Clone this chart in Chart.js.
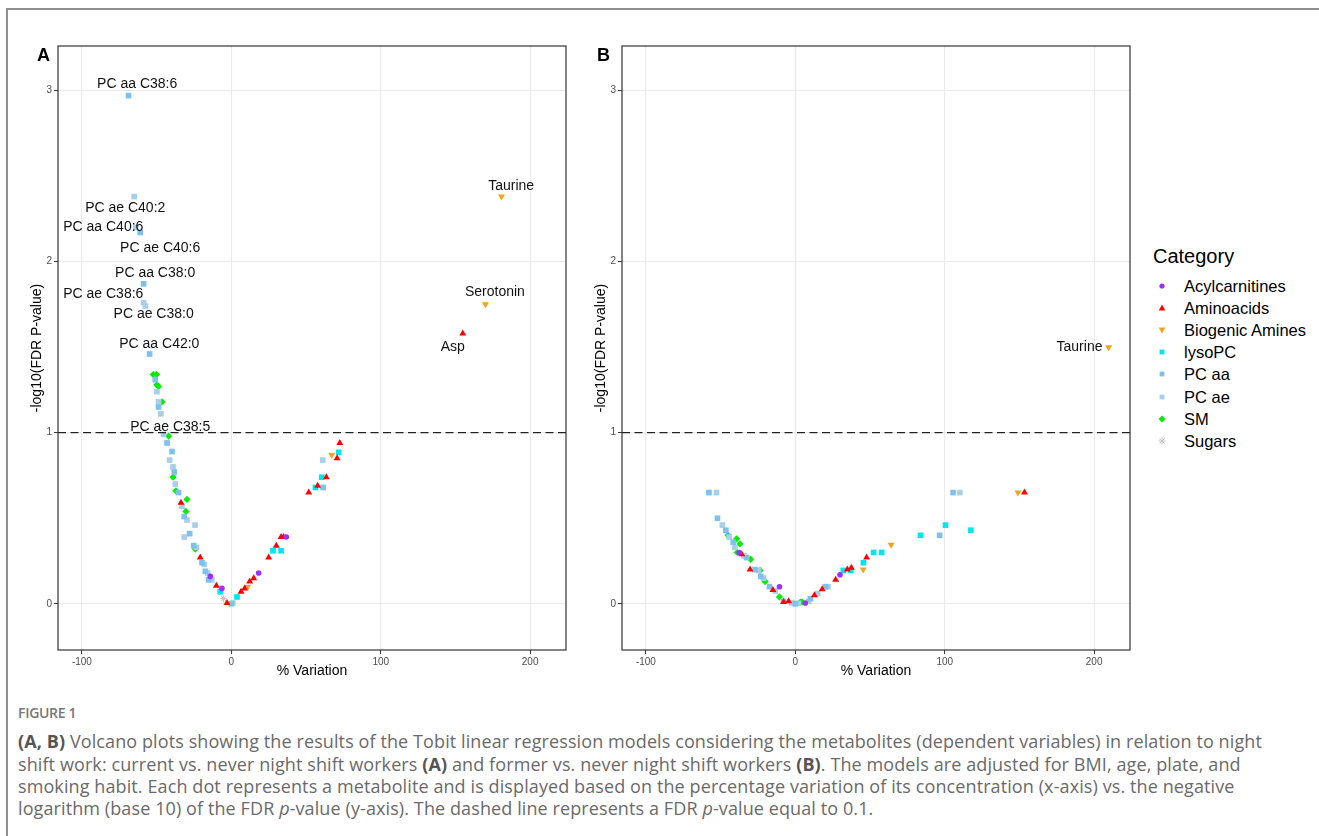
<!DOCTYPE html>
<html>
<head>
<meta charset="utf-8">
<script src="https://cdn.jsdelivr.net/npm/chart.js@4.4.1/dist/chart.umd.min.js"></script>
<style>
  html, body { margin: 0; padding: 0; background: #fff; }
  body { width: 1319px; height: 836px; position: relative; overflow: hidden; font-family: "Liberation Sans", Arial, sans-serif; }
  #frame { position: absolute; left: 6px; top: 8px; width: 1340px; height: 860px; border: 2px solid #8f8f8f; box-sizing: border-box; }
  .panel { position: absolute; top: 0; width: 580px; height: 690px; }
  #wrapA { left: 0; }
  #wrapB { left: 564px; }
  .tag { position: absolute; top: 45px; font-weight: bold; font-size: 18px; line-height: 20px; color: #000; }
  #legend { position: absolute; left: 1153px; top: 0; }
  #legend .title { position: absolute; left: 0; top: 243px; font-size: 20px; line-height: 26px; white-space: nowrap; color: #000; }
  #legend .row { position: absolute; left: 0; height: 20px; white-space: nowrap; }
  #legend .row svg { position: absolute; left: 4px; top: 3px; }
  #legend .row span { position: absolute; left: 31px; top: 0; font-size: 16.5px; line-height: 20px; color: #000; }
  .cap { position: absolute; left: 18px; white-space: nowrap; font-family: "Open Sans", sans-serif; color: #6a6a6a; }
  #figno { top: 703px; font-size: 14px; font-weight: 600; color: #777; letter-spacing: -0.3px; }
  .line { font-size: 18px; line-height: 22px; letter-spacing: 0.1px; }
  .line b { font-weight: 700; color: #555; }
</style>
</head>
<body>
<div id="frame"></div>
<div class="panel" id="wrapA"><canvas id="chartA" width="580" height="690"></canvas></div>
<div class="panel" id="wrapB"><canvas id="chartB" width="580" height="690"></canvas></div>
<div class="tag" style="left:37px">A</div>
<div class="tag" style="left:597px">B</div>
<div id="legend"></div>

<div class="cap" id="figno">FIGURE 1</div>
<div class="cap line" style="top:730px"><b>(A, B)</b> Volcano plots showing the results of the Tobit linear regression models considering the metabolites (dependent variables) in relation to night</div>
<div class="cap line" style="top:753px">shift work: current vs. never night shift workers <b>(A)</b> and former vs. never night shift workers <b>(B)</b>. The models are adjusted for BMI, age, plate, and</div>
<div class="cap line" style="top:775px">smoking habit. Each dot represents a metabolite and is displayed based on the percentage variation of its concentration (x-axis) vs. the negative</div>
<div class="cap line" style="top:797px">logarithm (base 10) of the FDR <i>p</i>-value (y-axis). The dashed line represents a FDR <i>p</i>-value equal to 0.1.</div>

<script>
// ------------------------------------------------------------
// Volcano plots, current vs never (A) and former vs never (B).
// Values: [% variation, -log10(FDR p)].
// ------------------------------------------------------------

const CATEGORIES = ['Acylcarnitines', 'Aminoacids', 'Biogenic Amines', 'lysoPC', 'PC aa', 'PC ae', 'SM', 'Sugars'];
const CAT_COLORS = ['#9b30ff', '#ff0000', '#f4a11d', '#00e6ef', '#7ec0ee', '#a8cfe8', '#00ee00', '#bebebe'];
const CAT_SHAPES = ['circle', 'triangle', 'triangle', 'rect', 'rect', 'rect', 'rectRot', 'star'];
const CAT_ROTATION = [0, 0, 180, 0, 0, 0, 0, 0];
const CAT_RADIUS = [2.8, 4, 4, 4, 4, 4, 3.6, 3.4];

const X_TICKS = [-100, 0, 100, 200];
const Y_TICKS = [0, 1, 2, 3];
const X_RANGE = [-116, 224];
const Y_RANGE = [-0.27, 3.26];
const THRESHOLD = 1; // FDR p = 0.1

// ---- panel A : current vs never ----
const aAcyl = [[-14.1, 0.16], [-6.3, 0.09], [18.3, 0.18], [36.8, 0.39]];
const aAmino = [[-33.7, 0.59], [-20.8, 0.27], [-10, 0.105], [-2.9, 0.004], [6.5, 0.07], [8.9, 0.09], [12.3, 0.13],
  [15, 0.15], [25, 0.27], [30.1, 0.34], [33.3, 0.39], [35, 0.39], [51.8, 0.65], [57.8, 0.69], [63.6, 0.74],
  [70.8, 0.85], [72.6, 0.94], [154.9, 1.58]];
const aBiogenic = [[10.9, 0.10], [67.2, 0.87], [170.1, 1.75], [180.8, 2.38]];
const aLysoPC = [[-7.4, 0.07], [3.8, 0.04], [27.9, 0.31], [33.3, 0.31], [56.3, 0.68], [60.5, 0.74], [71.9, 0.885]];
const aPCaa = [[-68.8, 2.97], [-61, 2.17], [-58.7, 1.87], [-54.7, 1.46], [-50.9, 1.31], [-48.7, 1.15], [-43, 0.94],
  [-39.7, 0.89], [-38.2, 0.77], [-35.3, 0.65], [-31.5, 0.51], [-27.9, 0.41], [-25.2, 0.34], [-19.6, 0.24],
  [-17.4, 0.19], [-15.2, 0.14], [0, 0], [61.4, 0.68]];
const aPCae = [[-65, 2.38], [-64, 2.2], [-58.7, 1.76], [-57.5, 1.74], [-49.8, 1.24], [-48.7, 1.18], [-47.1, 1.11],
  [-45.3, 0.99], [-41.3, 0.84], [-39, 0.80], [-37.5, 0.70], [-33, 0.57], [-29.7, 0.49], [-24.3, 0.46],
  [-31.5, 0.39], [-23.4, 0.33], [-18.1, 0.23], [-15.8, 0.18], [-13, 0.14], [1, 0.005], [61.2, 0.84]];
const aSM = [[-52.3, 1.34], [-50.1, 1.34], [-49.8, 1.28], [-48.7, 1.27], [-46.4, 1.18], [-42, 0.98], [-39, 0.74],
  [-37.1, 0.66], [-29.7, 0.61], [-30.4, 0.54], [-24.1, 0.32]];
const aSugars = [[-5.1, 0.03]];

// text labels of panel A: [name, x, y] (centre of the text, data units)
const aLabels = [
  ['PC aa C38:6', -63, 3.035], ['PC ae C40:2', -71, 2.31], ['PC aa C40:6', -85.7, 2.2], ['PC ae C40:6', -47.6, 2.08],
  ['PC aa C38:0', -51, 1.93], ['PC ae C38:6', -85.7, 1.81], ['PC ae C38:0', -52, 1.69], ['PC aa C42:0', -48.2, 1.52],
  ['PC ae C38:5', -40.9, 1.03], ['Taurine', 187.3, 2.44], ['Serotonin', 176.4, 1.82], ['Asp', 148.2, 1.50]
];

// ---- panel B : former vs never ----
const bAcyl = [[-37.5, 0.30], [-10.6, 0.10], [6.7, 0.005], [29.9, 0.17]];
const bAmino = [[-35.9, 0.29], [-30.3, 0.20], [-15, 0.08], [-7.9, 0.01], [-4.5, 0.015], [12.8, 0.05], [18, 0.085],
  [27, 0.14], [34.8, 0.20], [37.5, 0.21], [47.7, 0.27], [153.4, 0.65]];
const bBiogenic = [[45.4, 0.20], [64.1, 0.345], [149, 0.65], [209.7, 1.50]];
const bLysoPC = [[32.1, 0.195], [37.1, 0.195], [45.6, 0.24], [52.4, 0.30], [57.8, 0.30], [83.8, 0.40], [100.5, 0.46],
  [117.5, 0.43]];
const bPCaa = [[-57.8, 0.65], [-52.1, 0.50], [-46.5, 0.43], [-41.6, 0.36], [-32.6, 0.27], [-27, 0.20], [-23.1, 0.16],
  [-17.3, 0.10], [-7.9, 0.015], [0, 0], [10.1, 0.03], [20.2, 0.10], [96.6, 0.40], [105.6, 0.65]];
const bPCae = [[-52.8, 0.65], [-48.8, 0.46], [-44.3, 0.39], [-40.4, 0.33], [-34.4, 0.28], [-24.7, 0.195], [-21.3, 0.15],
  [-13.5, 0.075], [-2.3, 0.005], [2, 0.003], [9, 0.015], [15, 0.06], [21.8, 0.10], [110.1, 0.65]];
const bSM = [[-45, 0.40], [-39.3, 0.38], [-37.1, 0.35], [-38.9, 0.30], [-29.9, 0.26], [-23.6, 0.195], [-20.2, 0.13],
  [-10.6, 0.04], [3.4, 0.01], [4.5, 0.01]];
const bSugars = [[-1, 0.005]];

const bLabels = [['Taurine', 190.2, 1.50]];

const FONT = '"Liberation Sans", Arial, sans-serif';

function buildDatasets(groups) {
  return groups.map((pts, i) => ({
    label: CATEGORIES[i],
    data: pts.map(([x, y]) => ({ x, y })),
    pointStyle: CAT_SHAPES[i],
    pointRotation: CAT_ROTATION[i],
    pointRadius: CAT_RADIUS[i],
    backgroundColor: CAT_COLORS[i],
    borderColor: CAT_COLORS[i],
    borderWidth: CAT_SHAPES[i] === 'star' ? 1 : 0,
  }));
}

// dashed threshold, text labels and the panel frame
const panelDecor = {
  id: 'panelDecor',
  afterDatasetsDraw(chart, args, opts) {
    const { ctx, chartArea: area, scales: { x, y } } = chart;
    const yy = y.getPixelForValue(THRESHOLD);
    ctx.save();
    ctx.strokeStyle = '#222';
    ctx.lineWidth = 1.3;
    ctx.setLineDash([8, 4.5]);
    ctx.beginPath();
    ctx.moveTo(area.left, yy);
    ctx.lineTo(area.right, yy);
    ctx.stroke();
    ctx.setLineDash([]);
    ctx.fillStyle = '#111';
    ctx.font = '14px ' + FONT;
    ctx.textAlign = 'center';
    ctx.textBaseline = 'middle';
    opts.labels.forEach(([txt, lx, ly]) => {
      ctx.fillText(txt, x.getPixelForValue(lx), y.getPixelForValue(ly));
    });
    ctx.restore();
  },
  afterDraw(chart) {
    const { ctx, chartArea: area } = chart;
    ctx.save();
    ctx.strokeStyle = '#333';
    ctx.lineWidth = 1.2;
    ctx.strokeRect(area.left, area.top, area.right - area.left, area.bottom - area.top);
    ctx.restore();
  }
};

function makeOptions(labels) {
  const tickFont = { family: FONT, size: 10 };
  const titleFont = { family: FONT, size: 14 };
  const grid = { color: '#ebebeb', lineWidth: 1.1, tickColor: '#333', tickLength: 4, tickWidth: 1 };
  return {
    responsive: false,
    animation: false,
    events: [],
    layout: { padding: { top: 46, right: 14, left: 0, bottom: 0 } },
    plugins: { legend: { display: false }, tooltip: { enabled: false }, panelDecor: { labels } },
    scales: {
      x: {
        type: 'linear', min: X_RANGE[0], max: X_RANGE[1],
        afterBuildTicks: s => { s.ticks = X_TICKS.map(v => ({ value: v })); },
        afterFit: s => { s.height = 40; },
        grid, border: { display: false },
        ticks: { color: '#4d4d4d', font: tickFont, padding: 2, maxRotation: 0, autoSkip: false },
        title: { display: true, text: '% Variation', color: '#000', font: titleFont, padding: { top: 0, bottom: 10 } }
      },
      y: {
        type: 'linear', min: Y_RANGE[0], max: Y_RANGE[1],
        afterBuildTicks: s => { s.ticks = Y_TICKS.map(v => ({ value: v })); },
        afterFit: s => { s.width = 58; },
        grid, border: { display: false },
        ticks: { color: '#4d4d4d', font: tickFont, padding: 2, autoSkip: false },
        title: { display: true, text: '-log10(FDR P-value)', color: '#000', font: titleFont, padding: { top: 29, bottom: 0 } }
      }
    }
  };
}

new Chart(document.getElementById('chartA'), {
  type: 'scatter',
  data: { datasets: buildDatasets([aAcyl, aAmino, aBiogenic, aLysoPC, aPCaa, aPCae, aSM, aSugars]) },
  options: makeOptions(aLabels),
  plugins: [panelDecor]
});

new Chart(document.getElementById('chartB'), {
  type: 'scatter',
  data: { datasets: buildDatasets([bAcyl, bAmino, bBiogenic, bLysoPC, bPCaa, bPCae, bSM, bSugars]) },
  options: makeOptions(bLabels),
  plugins: [panelDecor]
});

// ---- legend (HTML, same shapes/colours as the datasets) ----
function legendSymbol(i) {
  const c = CAT_COLORS[i];
  let shape = '';
  if (CAT_SHAPES[i] === 'circle') shape = `<circle cx="5" cy="7" r="2.6" fill="${c}"/>`;
  else if (CAT_SHAPES[i] === 'triangle' && CAT_ROTATION[i] === 0) shape = `<polygon points="5,3.5 8.3,9.5 1.7,9.5" fill="${c}"/>`;
  else if (CAT_SHAPES[i] === 'triangle') shape = `<polygon points="1.7,4.5 8.3,4.5 5,10.5" fill="${c}"/>`;
  else if (CAT_SHAPES[i] === 'rect') shape = `<rect x="2.6" y="4.6" width="4.8" height="4.8" fill="${c}"/>`;
  else if (CAT_SHAPES[i] === 'rectRot') shape = `<polygon points="5,3.6 8.4,7 5,10.4 1.6,7" fill="${c}"/>`;
  else shape = `<g stroke="${c}" stroke-width="0.9"><line x1="5" y1="3.5" x2="5" y2="10.5"/><line x1="1.5" y1="7" x2="8.5" y2="7"/><line x1="2.5" y1="4.5" x2="7.5" y2="9.5"/><line x1="7.5" y1="4.5" x2="2.5" y2="9.5"/></g>`;
  return `<svg width="10" height="14" viewBox="0 0 10 14">${shape}</svg>`;
}

const legend = document.getElementById('legend');
legend.innerHTML = '<div class="title">Category</div>' + CATEGORIES.map((name, i) =>
  `<div class="row" style="top:${276 + i * 22.1}px">${legendSymbol(i)}<span>${name}</span></div>`
).join('');
</script>
</body>
</html>
